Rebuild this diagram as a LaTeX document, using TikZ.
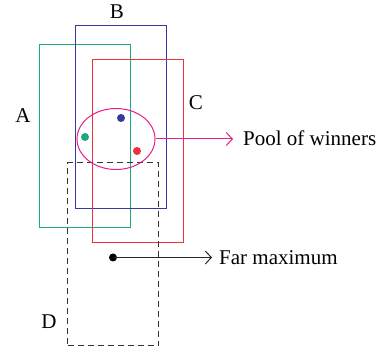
\documentclass[tikz,border=0pt]{standalone}
\usepackage{fontspec}
\setmainfont{Liberation Serif}
\usetikzlibrary{shapes.geometric,arrows.meta}
\definecolor{cgreen}{RGB}{30,168,130}
\definecolor{cblue}{RGB}{52,58,160}
\definecolor{cred}{RGB}{235,50,60}
\definecolor{cmag}{RGB}{228,30,140}
\tikzset{
  box/.style={draw, rectangle, inner sep=0pt, minimum width=91pt, minimum height=183pt, line width=1pt},
  dot/.style={circle, fill, inner sep=0pt, minimum size=8pt},
  lbl/.style={font=\fontsize{21}{24}\selectfont, inner sep=0pt},
  arr/.style={line width=1pt, -{Straight Barb[length=6pt,width=13pt,line width=1pt]}}
}
\begin{document}
\begin{tikzpicture}[x=1pt,y=-1pt]
\useasboundingbox (0,0) rectangle (381,352);
\node[box, cgreen] (A) at (84.5,136.5) {};
\node[box, cblue] (B) at (120.5,117.5) {};
\node[box, cred] (C) at (137.5,151) {};
\node[box, black!80, dashed, dash pattern=on 6pt off 4pt] (D) at (113,254.5) {};
\node[draw=cmag, ellipse, line width=1pt, minimum width=78pt, minimum height=61pt, inner sep=0pt] (pool) at (116,139) {};
\node[dot, cblue] (db) at (121,118) {};
\node[dot, cgreen] (dg) at (85,137) {};
\node[dot, cred] (dr) at (137,151) {};
\node[dot, black] (fm) at (113,257.5) {};
\node[lbl] (la) at (23,116) {A};
\node[lbl] (lb) at (117,12) {B};
\node[lbl] (lc) at (196,103) {C};
\node[lbl] (ld) at (49,322) {D};
\node[lbl, anchor=base west] (tpool) at (243,146) {Pool of winners};
\node[lbl, anchor=base west] (tfar) at (219,265) {Far maximum};
\coordinate (pe) at (233,139);
\coordinate (fe) at (212,257.5);
\draw[arr, cmag] (pool.east) -- (pe);
\draw[arr, black!85] (fm.center) -- (fe);
\end{tikzpicture}
\end{document}
